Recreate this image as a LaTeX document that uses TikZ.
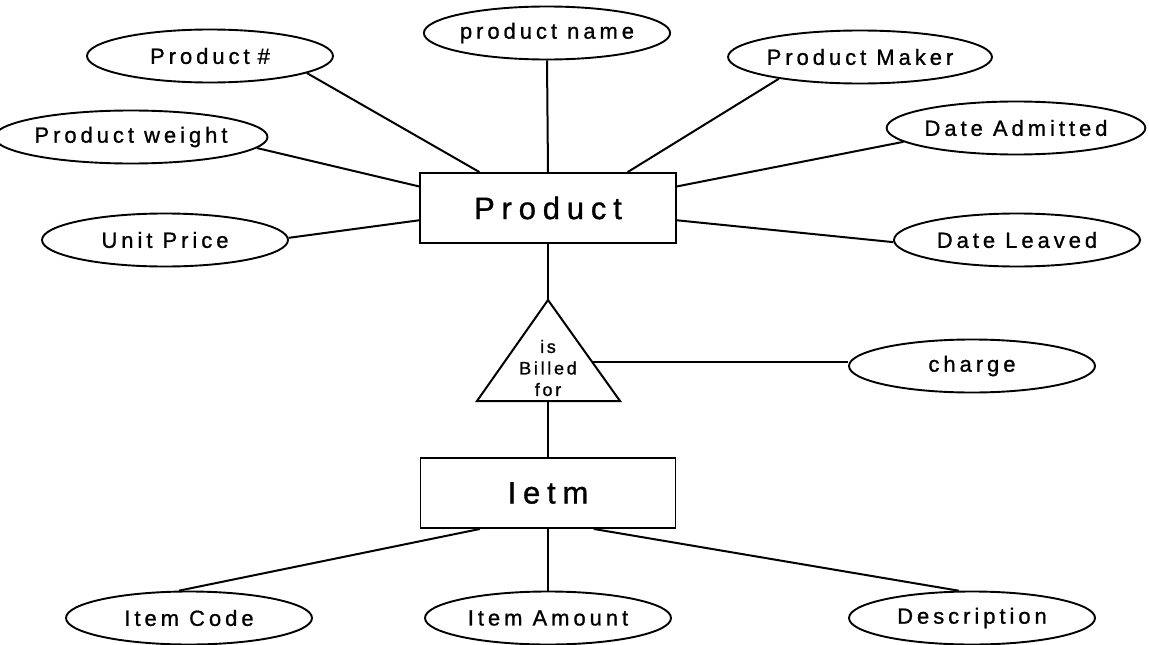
\documentclass[tikz,border=0pt]{standalone}
\usepackage{fontspec}
\setmainfont{Liberation Sans}
\newfontfamily\attrfont[LetterSpace=18,FakeBold=1]{Liberation Sans}
\newfontfamily\entfont[LetterSpace=22,FakeBold=1]{Liberation Sans}
\newfontfamily\relfont[LetterSpace=15,FakeBold=1]{Liberation Sans}
\usetikzlibrary{shapes.geometric,calc}

\begin{document}
\begin{tikzpicture}[x=1pt,y=-1pt,
  attr/.style={draw, ellipse, line width=1.9pt, minimum width=246pt,
    minimum height=53pt, inner sep=0pt,
    font=\attrfont\fontsize{22}{26}\selectfont},
  entity/.style={draw, rectangle, line width=1.9pt, minimum width=256pt,
    minimum height=70pt, inner sep=0pt,
    font=\entfont\fontsize{31}{36}\selectfont},
  link/.style={line width=2pt}]
\useasboundingbox (0,0) rectangle (1149,645);

% entities
\node[entity] (prod) at (548,208) {Product};
\node[entity, minimum width=255pt] (item) at (548,493) {Ietm};

% attributes of Product
\node[attr] (pname)   at (547,33)   {product name};
\node[attr] (pnum)    at (210,56)   {Product\hspace{8pt}\#};
\node[attr] (pweight) at (131,137)  {Product weight};
\node[attr] (uprice)  at (165,240)  {Unit Price};
\node[attr] (pmaker)  at (860,57)   {Product Maker};
\node[attr] (dadm)    at (1016,128) {Date Admitted};
\node[attr] (dleav)   at (1017,240) {Date Leaved};

% attribute of the relationship
\node[attr] (charge)  at (972,366)  {charge};

% attributes of Ietm
\node[attr] (icode)   at (189,618)  {Item Code};
\node[attr] (iamt)    at (548,618)  {Item Amount};
\node[attr] (desc)    at (972,618)  {Description};

% relationship triangle
\coordinate (apex) at (548,300);
\coordinate (bl)   at (477,401);
\coordinate (br)   at (620,401);
\coordinate (base) at (548,401);
\coordinate (side) at ($(apex)!0.614!(br)$);
\draw[link, line join=miter] (apex) -- (br) -- (bl) -- cycle;
\node[font=\relfont\fontsize{18}{21.5}\selectfont, align=center, inner sep=0pt]
  (rel) at (548,368) {is\\Billed\\for};

% connectors around Product
\draw[link] (pname.south) -- (prod.north);
\draw[link] (pnum.-10)    -- ($(prod.north west)!0.234!(prod.north east)$);
\draw[link] (pmaker.195)  -- ($(prod.north west)!0.809!(prod.north east)$);
\draw[link] (pweight.-5)  -- ($(prod.north west)!0.2!(prod.south west)$);
\draw[link] (uprice.1)    -- ($(prod.north west)!0.671!(prod.south west)$);
\draw[link] (dadm.187)    -- ($(prod.north east)!0.2!(prod.south east)$);
\draw[link] (dleav.181)   -- ($(prod.north east)!0.671!(prod.south east)$);

% relationship links
\draw[link] (prod.south) -- (apex);
\draw[link] (base) -- (item.north);
\draw[link] (side) -- (side -| charge.west);

% connectors around Ietm
\draw[link] (icode.110) -- ($(item.south west)!0.235!(item.south east)$);
\draw[link] (item.south) -- (iamt.north);
\draw[link] (desc.116)  -- ($(item.south west)!0.678!(item.south east)$);
\end{tikzpicture}
\end{document}
